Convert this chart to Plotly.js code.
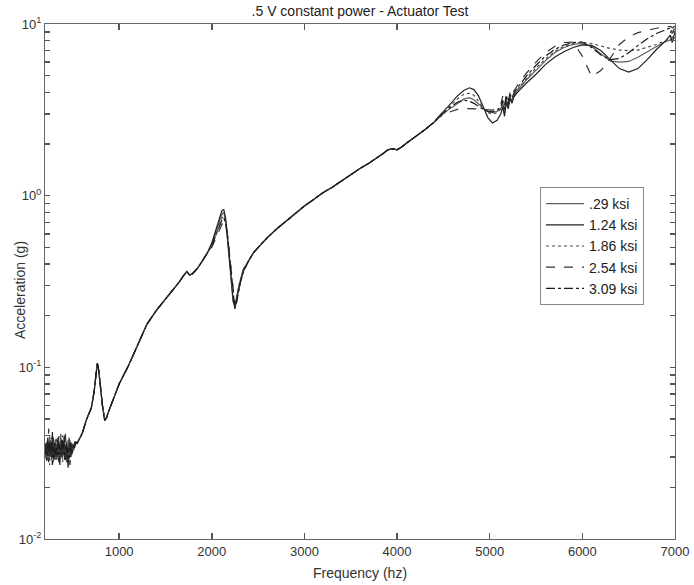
<!DOCTYPE html>
<html>
<head>
<meta charset="utf-8">
<script src="https://cdn.plot.ly/plotly-3.0.1.min.js"></script>
<style>html,body{margin:0;padding:0;background:#fff;}#chart{width:694px;height:585px;}</style>
</head>
<body>
<div id="chart"></div>
<script>
// ---- Data ----
const seriesNames = ['.29 ksi', '1.24 ksi', '1.86 ksi', '2.54 ksi', '3.09 ksi'];

// Low-frequency noisy band (Hz)
const freqA = [200,210,220,230,240,250,260,270,280,290,300,310,320,330,340,350,360,370,380,390,400,410,420,430,440,450,460,470,480,490,500,510,520,530];
const noiseA1 = [0.034,0.031,0.037,0.029,0.035,0.040,0.030,0.033,0.036,0.028,0.034,0.038,0.031,0.035,0.029,0.037,0.033,0.041,0.030,0.034,0.036,0.031,0.035,0.028,0.033,0.038,0.032,0.035,0.030,0.034,0.036,0.033,0.035,0.036];
const noiseA2 = [0.030,0.036,0.032,0.039,0.028,0.033,0.037,0.030,0.042,0.032,0.029,0.035,0.036,0.030,0.039,0.031,0.027,0.034,0.038,0.030,0.033,0.040,0.029,0.035,0.031,0.026,0.036,0.033,0.035,0.032,0.034,0.035,0.034,0.037];
const noiseA3 = [0.036,0.029,0.033,0.035,0.031,0.027,0.038,0.034,0.030,0.037,0.033,0.029,0.039,0.032,0.035,0.030,0.036,0.031,0.034,0.028,0.039,0.033,0.030,0.037,0.034,0.031,0.029,0.038,0.033,0.036,0.032,0.034,0.036,0.035];
const noiseA4 = [0.032,0.038,0.030,0.034,0.044,0.031,0.035,0.029,0.033,0.039,0.031,0.036,0.028,0.038,0.033,0.040,0.030,0.029,0.036,0.037,0.030,0.034,0.041,0.032,0.028,0.035,0.039,0.030,0.036,0.033,0.035,0.033,0.037,0.036];
const noiseA5 = [0.035,0.033,0.028,0.037,0.032,0.036,0.031,0.039,0.027,0.034,0.037,0.030,0.034,0.031,0.037,0.028,0.035,0.033,0.031,0.040,0.034,0.029,0.033,0.036,0.030,0.034,0.032,0.027,0.037,0.031,0.033,0.036,0.035,0.036];

// Shared part 545-1990 Hz (all five curves overlap)
const freqB = [545,570,600,650,700,730,750,765,780,800,820,845,865,885,920,960,1000,1100,1200,1300,1400,1500,1600,1650,1700,1730,1760,1790,1850,1900,1950];
const accelB = [0.036,0.038,0.041,0.050,0.058,0.072,0.094,0.106,0.096,0.075,0.060,0.049,0.051,0.055,0.062,0.071,0.080,0.102,0.135,0.178,0.214,0.250,0.290,0.315,0.345,0.362,0.345,0.350,0.380,0.420,0.460];

// Resonance at ~2100 Hz (per series)
const freqC = [2000,2040,2080,2110,2130,2150,2170,2190,2210,2230,2250,2270,2300,2340,2400];
const accelC1 = [0.52,0.60,0.70,0.78,0.80,0.70,0.55,0.40,0.30,0.24,0.23,0.26,0.31,0.37,0.42];
const accelC2 = [0.53,0.62,0.73,0.82,0.83,0.74,0.58,0.42,0.31,0.25,0.22,0.25,0.30,0.36,0.42];
const accelC3 = [0.51,0.58,0.67,0.74,0.76,0.70,0.57,0.43,0.32,0.26,0.23,0.26,0.31,0.37,0.42];
const accelC4 = [0.50,0.56,0.63,0.68,0.70,0.68,0.60,0.47,0.35,0.27,0.23,0.25,0.30,0.37,0.42];
const accelC5 = [0.51,0.58,0.66,0.72,0.74,0.69,0.58,0.45,0.33,0.26,0.22,0.24,0.30,0.36,0.42];

// Shared part 2450-4400 Hz
const freqD = [2450,2500,2600,2700,2800,2900,3000,3100,3200,3300,3400,3500,3600,3700,3800,3850,3900,3950,4000,4050,4100,4200,4300,4400];
const accelD = [0.465,0.50,0.57,0.64,0.71,0.79,0.87,0.95,1.04,1.12,1.22,1.32,1.44,1.55,1.68,1.76,1.85,1.88,1.85,1.92,2.02,2.20,2.42,2.68];

// High-frequency part 4450-7000 Hz (per series)
const freqE = [4450,4550,4650,4720,4780,4830,4880,4930,4980,5030,5080,5120,5140,5160,5180,5200,5220,5240,5260,5300,5400,5500,5600,5700,5800,5900,6000,6100,6200,6300,6400,6500,6600,6700,6800,6900,6950,6970,7000];
const accelE1 = [2.85,3.15,3.45,3.65,3.72,3.62,3.42,3.22,3.10,3.05,3.10,3.20,3.45,3.05,3.60,3.30,3.75,3.55,3.80,4.10,4.75,5.40,6.10,6.80,7.30,7.60,7.70,7.40,6.70,6.10,6.00,6.05,6.40,6.90,7.40,7.90,8.10,8.30,8.30];
const accelE2 = [2.90,3.30,3.80,4.10,4.25,4.15,3.80,3.30,2.85,2.65,2.75,3.00,3.30,2.90,3.50,3.20,3.70,3.45,3.75,4.00,4.55,5.10,5.80,6.40,6.90,7.30,7.55,7.50,7.00,6.20,5.50,5.25,5.50,6.20,7.10,8.00,8.60,7.80,9.00];
const accelE3 = [2.88,3.25,3.65,3.90,3.95,3.85,3.55,3.25,3.05,2.98,3.05,3.20,3.50,3.10,3.70,3.35,3.80,3.60,3.85,4.15,4.85,5.55,6.25,6.90,7.40,7.70,7.80,7.70,7.45,7.20,7.05,7.00,7.05,7.30,7.60,8.00,8.30,8.40,8.50];
const accelE4 = [2.85,3.05,3.18,3.22,3.22,3.22,3.20,3.18,3.15,3.15,3.25,3.40,3.80,3.35,3.90,3.55,4.00,3.80,4.05,4.40,5.20,6.00,6.80,7.40,7.80,7.85,6.50,4.95,5.35,6.30,7.60,8.40,8.90,9.20,9.45,9.60,9.70,9.50,9.70];
const accelE5 = [2.86,3.20,3.50,3.60,3.55,3.45,3.30,3.18,3.10,3.08,3.15,3.30,3.60,3.20,3.85,3.40,3.90,3.70,3.95,4.25,5.00,5.75,6.50,7.10,7.55,7.80,7.85,7.30,6.60,6.20,6.30,6.80,7.50,8.20,8.80,9.30,9.50,8.80,9.60];

// y ticks: decades labelled, 2..9 sub-ticks unlabelled
const yTickVals = [0.01,0.02,0.03,0.04,0.05,0.06,0.07,0.08,0.09,0.1,0.2,0.3,0.4,0.5,0.6,0.7,0.8,0.9,1,2,3,4,5,6,7,8,9,10];
const yTickText = ['10<sup>-2</sup>','','','','','','','','','10<sup>-1</sup>','','','','','','','','','10<sup>0</sup>','','','','','','','','','10<sup>1</sup>'];
const xTickVals = [1000, 2000, 3000, 4000, 5000, 6000, 7000];
const xTitle = 'Frequency (hz)';
const yTitle = 'Acceleration (g)';
const chartTitle = '.5 V constant power - Actuator Test';

// ---- Build traces ----
const freqAll = [].concat(freqA, freqB, freqC, freqD, freqE);
const noiseSets = [noiseA1, noiseA2, noiseA3, noiseA4, noiseA5];
const cSets = [accelC1, accelC2, accelC3, accelC4, accelC5];
const eSets = [accelE1, accelE2, accelE3, accelE4, accelE5];
const styles = [
  {color: '#5e5e5e', dash: 'solid'},
  {color: '#222222', dash: 'solid'},
  {color: '#4a4a4a', dash: 'dot'},
  {color: '#333333', dash: 'dash'},
  {color: '#1a1a1a', dash: 'dashdot'}
];
const traces = seriesNames.map((name, i) => ({
  type: 'scatter', mode: 'lines', name: name,
  x: freqAll,
  y: [].concat(noiseSets[i], accelB, cSets[i], accelD, eSets[i]),
  line: {color: styles[i].color, dash: styles[i].dash, width: 1.2}
}));

const font = 'Arial, "Liberation Sans", sans-serif';
const layout = {
  width: 694, height: 585,
  margin: {l: 45, r: 19, t: 24, b: 46},
  paper_bgcolor: '#fff', plot_bgcolor: '#fff',
  font: {family: font, size: 13, color: '#333'},
  showlegend: true,
  title: {text: chartTitle, font: {family: font, size: 14, color: '#222'},
          x: 0.5, xref: 'paper', y: 1 - 11/585, yref: 'container', yanchor: 'middle'},
  xaxis: {
    range: [200, 7000], tickmode: 'array', tickvals: xTickVals, ticks: 'inside', ticklen: 6, tickwidth: 1.5, tickcolor: '#555',
    showline: true, linecolor: '#666', linewidth: 1, mirror: 'ticks', showgrid: false, zeroline: false,
    tickfont: {family: font, size: 13, color: '#333'},
    title: {text: xTitle, font: {family: font, size: 14, color: '#333'}, standoff: 10}
  },
  yaxis: {
    type: 'log', range: [-2, 1], tickmode: 'array', tickvals: yTickVals, ticktext: yTickText,
    ticks: 'inside', ticklen: 5, tickwidth: 1.5, tickcolor: '#555',
    showline: true, linecolor: '#666', linewidth: 1, mirror: 'ticks', showgrid: false, zeroline: false,
    tickfont: {family: font, size: 13, color: '#333'}
  },
  annotations: [{
    text: yTitle, xref: 'paper', yref: 'paper', x: (20 - 45) / 630, y: 1 - (290 - 24) / 515,
    xanchor: 'center', yanchor: 'middle', textangle: -90, showarrow: false,
    font: {family: font, size: 14, color: '#333'}
  }],
  legend: {
    x: (540 - 45) / 630, y: 1 - (187 - 24) / 515, xanchor: 'left', yanchor: 'top',
    bgcolor: '#fff', bordercolor: '#888', borderwidth: 1,
    font: {family: font, size: 14, color: '#222'},
    itemwidth: 38, tracegroupgap: 0
  }
};

Plotly.newPlot('chart', traces, layout, {displayModeBar: false, staticPlot: true});
</script>
</body>
</html>
